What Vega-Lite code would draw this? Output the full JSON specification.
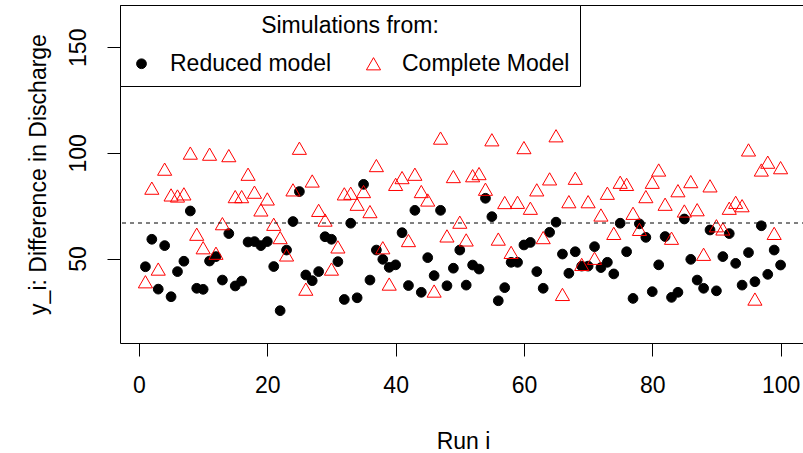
{
  "$schema": "https://vega.github.io/schema/vega-lite/v6.json",
  "width": 686,
  "height": 338,
  "autosize": {"type": "none"},
  "padding": {"left": 120, "top": 5, "right": 0, "bottom": 110},
  "background": "white",
  "config": {
    "font": "Liberation Sans",
    "view": {"stroke": "black", "strokeWidth": 1},
    "axis": {
      "grid": false,
      "domain": false,
      "tickColor": "black",
      "tickWidth": 1,
      "tickSize": 13,
      "labelColor": "black",
      "titleColor": "black",
      "labelFontSize": 23,
      "titleFontSize": 23,
      "titleFontWeight": "normal",
      "labelFont": "Liberation Sans",
      "titleFont": "Liberation Sans",
      "labelFlush": false,
      "labelOverlap": false
    },
    "legend": {
      "symbolOpacity": 1
    }
  },
  "layer": [
    {
      "data": {
        "values": [
          {"run":1,"y":46.1,"model":"Reduced model"},{"run":2,"y":59.1,"model":"Reduced model"},{"run":3,"y":35.5,"model":"Reduced model"},{"run":4,"y":56.1,"model":"Reduced model"},{"run":5,"y":31.9,"model":"Reduced model"},
          {"run":6,"y":43.8,"model":"Reduced model"},{"run":7,"y":48.7,"model":"Reduced model"},{"run":8,"y":72.5,"model":"Reduced model"},{"run":9,"y":35.9,"model":"Reduced model"},{"run":10,"y":35.4,"model":"Reduced model"},
          {"run":11,"y":48.8,"model":"Reduced model"},{"run":12,"y":50.9,"model":"Reduced model"},{"run":13,"y":39.8,"model":"Reduced model"},{"run":14,"y":61.8,"model":"Reduced model"},{"run":15,"y":37.0,"model":"Reduced model"},
          {"run":16,"y":39.3,"model":"Reduced model"},{"run":17,"y":57.8,"model":"Reduced model"},{"run":18,"y":58.0,"model":"Reduced model"},{"run":19,"y":56.1,"model":"Reduced model"},{"run":20,"y":58.0,"model":"Reduced model"},
          {"run":21,"y":46.2,"model":"Reduced model"},{"run":22,"y":25.3,"model":"Reduced model"},{"run":23,"y":54.0,"model":"Reduced model"},{"run":24,"y":67.5,"model":"Reduced model"},{"run":25,"y":81.7,"model":"Reduced model"},
          {"run":26,"y":42.2,"model":"Reduced model"},{"run":27,"y":39.5,"model":"Reduced model"},{"run":28,"y":43.8,"model":"Reduced model"},{"run":29,"y":60.3,"model":"Reduced model"},{"run":30,"y":59.1,"model":"Reduced model"},
          {"run":31,"y":48.5,"model":"Reduced model"},{"run":32,"y":30.6,"model":"Reduced model"},{"run":33,"y":66.7,"model":"Reduced model"},{"run":34,"y":31.4,"model":"Reduced model"},{"run":35,"y":85.1,"model":"Reduced model"},
          {"run":36,"y":39.8,"model":"Reduced model"},{"run":37,"y":54.0,"model":"Reduced model"},{"run":38,"y":49.6,"model":"Reduced model"},{"run":39,"y":45.8,"model":"Reduced model"},{"run":40,"y":47.0,"model":"Reduced model"},
          {"run":41,"y":62.2,"model":"Reduced model"},{"run":42,"y":37.2,"model":"Reduced model"},{"run":43,"y":72.8,"model":"Reduced model"},{"run":44,"y":34.0,"model":"Reduced model"},{"run":45,"y":50.4,"model":"Reduced model"},
          {"run":46,"y":41.9,"model":"Reduced model"},{"run":47,"y":72.8,"model":"Reduced model"},{"run":48,"y":37.1,"model":"Reduced model"},{"run":49,"y":45.4,"model":"Reduced model"},{"run":50,"y":54.0,"model":"Reduced model"},
          {"run":51,"y":37.4,"model":"Reduced model"},{"run":52,"y":46.9,"model":"Reduced model"},{"run":53,"y":45.0,"model":"Reduced model"},{"run":54,"y":78.5,"model":"Reduced model"},{"run":55,"y":69.8,"model":"Reduced model"},
          {"run":56,"y":30.0,"model":"Reduced model"},{"run":57,"y":36.2,"model":"Reduced model"},{"run":58,"y":48.2,"model":"Reduced model"},{"run":59,"y":48.2,"model":"Reduced model"},{"run":60,"y":56.4,"model":"Reduced model"},
          {"run":61,"y":57.6,"model":"Reduced model"},{"run":62,"y":43.8,"model":"Reduced model"},{"run":63,"y":35.9,"model":"Reduced model"},{"run":64,"y":62.4,"model":"Reduced model"},{"run":65,"y":67.2,"model":"Reduced model"},
          {"run":66,"y":52.1,"model":"Reduced model"},{"run":67,"y":43.0,"model":"Reduced model"},{"run":68,"y":53.2,"model":"Reduced model"},{"run":69,"y":46.4,"model":"Reduced model"},{"run":70,"y":46.4,"model":"Reduced model"},
          {"run":71,"y":55.6,"model":"Reduced model"},{"run":72,"y":45.7,"model":"Reduced model"},{"run":73,"y":48.2,"model":"Reduced model"},{"run":74,"y":42.7,"model":"Reduced model"},{"run":75,"y":66.7,"model":"Reduced model"},
          {"run":76,"y":53.2,"model":"Reduced model"},{"run":77,"y":31.1,"model":"Reduced model"},{"run":78,"y":66.4,"model":"Reduced model"},{"run":79,"y":60.0,"model":"Reduced model"},{"run":80,"y":34.3,"model":"Reduced model"},
          {"run":81,"y":47.0,"model":"Reduced model"},{"run":82,"y":60.4,"model":"Reduced model"},{"run":83,"y":31.6,"model":"Reduced model"},{"run":84,"y":34.0,"model":"Reduced model"},{"run":85,"y":68.7,"model":"Reduced model"},
          {"run":86,"y":49.6,"model":"Reduced model"},{"run":87,"y":39.8,"model":"Reduced model"},{"run":88,"y":35.9,"model":"Reduced model"},{"run":89,"y":63.5,"model":"Reduced model"},{"run":90,"y":34.7,"model":"Reduced model"},
          {"run":91,"y":50.9,"model":"Reduced model"},{"run":92,"y":61.8,"model":"Reduced model"},{"run":93,"y":47.7,"model":"Reduced model"},{"run":94,"y":37.4,"model":"Reduced model"},{"run":95,"y":52.8,"model":"Reduced model"},
          {"run":96,"y":39.0,"model":"Reduced model"},{"run":97,"y":65.5,"model":"Reduced model"},{"run":98,"y":42.5,"model":"Reduced model"},{"run":99,"y":54.0,"model":"Reduced model"},{"run":100,"y":46.9,"model":"Reduced model"},
          {"run":1,"y":39.0,"model":"Complete Model"},{"run":2,"y":83.3,"model":"Complete Model"},{"run":3,"y":45.0,"model":"Complete Model"},{"run":4,"y":92.3,"model":"Complete Model"},{"run":5,"y":80.1,"model":"Complete Model"},
          {"run":6,"y":79.6,"model":"Complete Model"},{"run":7,"y":80.6,"model":"Complete Model"},{"run":8,"y":99.9,"model":"Complete Model"},{"run":9,"y":61.5,"model":"Complete Model"},{"run":10,"y":55.1,"model":"Complete Model"},
          {"run":11,"y":99.4,"model":"Complete Model"},{"run":12,"y":52.5,"model":"Complete Model"},{"run":13,"y":66.5,"model":"Complete Model"},{"run":14,"y":98.7,"model":"Complete Model"},{"run":15,"y":79.3,"model":"Complete Model"},
          {"run":16,"y":79.3,"model":"Complete Model"},{"run":17,"y":89.9,"model":"Complete Model"},{"run":18,"y":81.4,"model":"Complete Model"},{"run":19,"y":73.0,"model":"Complete Model"},{"run":20,"y":78.2,"model":"Complete Model"},
          {"run":21,"y":66.2,"model":"Complete Model"},{"run":22,"y":59.9,"model":"Complete Model"},{"run":23,"y":51.7,"model":"Complete Model"},{"run":24,"y":82.5,"model":"Complete Model"},{"run":25,"y":102.2,"model":"Complete Model"},
          {"run":26,"y":35.5,"model":"Complete Model"},{"run":27,"y":86.7,"model":"Complete Model"},{"run":28,"y":72.8,"model":"Complete Model"},{"run":29,"y":68.2,"model":"Complete Model"},{"run":30,"y":45.0,"model":"Complete Model"},
          {"run":31,"y":55.5,"model":"Complete Model"},{"run":32,"y":80.6,"model":"Complete Model"},{"run":33,"y":80.9,"model":"Complete Model"},{"run":34,"y":75.7,"model":"Complete Model"},{"run":35,"y":81.7,"model":"Complete Model"},
          {"run":36,"y":72.2,"model":"Complete Model"},{"run":37,"y":94.0,"model":"Complete Model"},{"run":38,"y":55.1,"model":"Complete Model"},{"run":39,"y":37.9,"model":"Complete Model"},{"run":40,"y":85.1,"model":"Complete Model"},
          {"run":41,"y":88.3,"model":"Complete Model"},{"run":42,"y":58.5,"model":"Complete Model"},{"run":43,"y":89.9,"model":"Complete Model"},{"run":44,"y":81.7,"model":"Complete Model"},{"run":45,"y":77.7,"model":"Complete Model"},
          {"run":46,"y":34.6,"model":"Complete Model"},{"run":47,"y":107.0,"model":"Complete Model"},{"run":48,"y":60.7,"model":"Complete Model"},{"run":49,"y":88.8,"model":"Complete Model"},{"run":50,"y":67.2,"model":"Complete Model"},
          {"run":51,"y":58.8,"model":"Complete Model"},{"run":52,"y":89.2,"model":"Complete Model"},{"run":53,"y":90.2,"model":"Complete Model"},{"run":54,"y":82.8,"model":"Complete Model"},{"run":55,"y":106.2,"model":"Complete Model"},
          {"run":56,"y":59.2,"model":"Complete Model"},{"run":57,"y":76.5,"model":"Complete Model"},{"run":58,"y":52.9,"model":"Complete Model"},{"run":59,"y":76.6,"model":"Complete Model"},{"run":60,"y":102.5,"model":"Complete Model"},
          {"run":61,"y":73.8,"model":"Complete Model"},{"run":62,"y":82.5,"model":"Complete Model"},{"run":63,"y":59.9,"model":"Complete Model"},{"run":64,"y":87.7,"model":"Complete Model"},{"run":65,"y":108.1,"model":"Complete Model"},
          {"run":66,"y":33.0,"model":"Complete Model"},{"run":67,"y":76.9,"model":"Complete Model"},{"run":68,"y":88.0,"model":"Complete Model"},{"run":69,"y":47.2,"model":"Complete Model"},{"run":70,"y":76.9,"model":"Complete Model"},
          {"run":71,"y":50.1,"model":"Complete Model"},{"run":72,"y":70.6,"model":"Complete Model"},{"run":73,"y":80.9,"model":"Complete Model"},{"run":74,"y":61.9,"model":"Complete Model"},{"run":75,"y":86.1,"model":"Complete Model"},
          {"run":76,"y":85.1,"model":"Complete Model"},{"run":77,"y":71.4,"model":"Complete Model"},{"run":78,"y":63.8,"model":"Complete Model"},{"run":79,"y":79.3,"model":"Complete Model"},{"run":80,"y":86.1,"model":"Complete Model"},
          {"run":81,"y":91.9,"model":"Complete Model"},{"run":82,"y":75.7,"model":"Complete Model"},{"run":83,"y":59.6,"model":"Complete Model"},{"run":84,"y":82.1,"model":"Complete Model"},{"run":85,"y":72.5,"model":"Complete Model"},
          {"run":86,"y":86.4,"model":"Complete Model"},{"run":87,"y":73.1,"model":"Complete Model"},{"run":88,"y":52.0,"model":"Complete Model"},{"run":89,"y":84.4,"model":"Complete Model"},{"run":90,"y":65.5,"model":"Complete Model"},
          {"run":91,"y":64.0,"model":"Complete Model"},{"run":92,"y":73.8,"model":"Complete Model"},{"run":93,"y":76.6,"model":"Complete Model"},{"run":94,"y":75.0,"model":"Complete Model"},{"run":95,"y":101.4,"model":"Complete Model"},
          {"run":96,"y":30.8,"model":"Complete Model"},{"run":97,"y":91.9,"model":"Complete Model"},{"run":98,"y":95.6,"model":"Complete Model"},{"run":99,"y":61.9,"model":"Complete Model"},{"run":100,"y":93.0,"model":"Complete Model"}
        ]
      },
      "mark": {"type": "point", "strokeWidth": 1, "opacity": 1},
      "encoding": {
        "x": {
          "field": "run", "type": "quantitative",
          "scale": {"domain": [-2.96, 103.96], "nice": false, "zero": false},
          "axis": {"values": [0, 20, 40, 60, 80, 100], "labelPadding": 36, "labelBaseline": "alphabetic", "title": "Run i", "titleBaseline": "alphabetic", "titleY": 105}
        },
        "y": {
          "field": "y", "type": "quantitative",
          "scale": {"domain": [10, 170], "nice": false, "zero": false},
          "axis": {"values": [50, 100, 150], "labelAngle": 270, "labelAlign": "center", "labelBaseline": "alphabetic", "labelPadding": 22, "title": "y_i: Difference in Discharge", "titleAngle": 270, "titleBaseline": "alphabetic", "titleX": -75, "titleY": 169, "titleAlign": "center"}
        },
        "shape": {
          "field": "model", "type": "nominal", "title": "Simulations from:",
          "scale": {"domain": ["Reduced model", "Complete Model"], "range": ["circle", "triangle-up"]},
          "legend": {
            "orient": "none", "legendX": 0, "legendY": 0, "direction": "horizontal",
            "strokeColor": "black", "fillColor": "white", "padding": 10,
            "titleFontSize": 23, "titleFontWeight": "normal", "titleColor": "black", "titleAnchor": "middle", "titlePadding": 14, "titleFont": "Liberation Sans",
            "labelFontSize": 23, "labelColor": "black", "labelFont": "Liberation Sans", "labelOffset": 17, "labelLimit": 0,
            "symbolOffset": 0, "columnPadding": 30, "symbolStrokeWidth": 1
          }
        },
        "fill": {
          "field": "model", "type": "nominal", "title": "Simulations from:",
          "scale": {"domain": ["Reduced model", "Complete Model"], "range": ["black", "transparent"]}
        },
        "stroke": {
          "field": "model", "type": "nominal", "title": "Simulations from:",
          "scale": {"domain": ["Reduced model", "Complete Model"], "range": ["black", "#ff0000"]}
        },
        "size": {
          "field": "model", "type": "nominal", "title": "Simulations from:",
          "scale": {"domain": ["Reduced model", "Complete Model"], "range": [95, 200]}
        }
      }
    },
    {
      "data": {"values": [{"level": 66.8}]},
      "mark": {"type": "rule", "color": "black", "strokeWidth": 1, "strokeDash": [4, 4]},
      "encoding": {
        "y": {"field": "level", "type": "quantitative"}
      }
    }
  ]
}
